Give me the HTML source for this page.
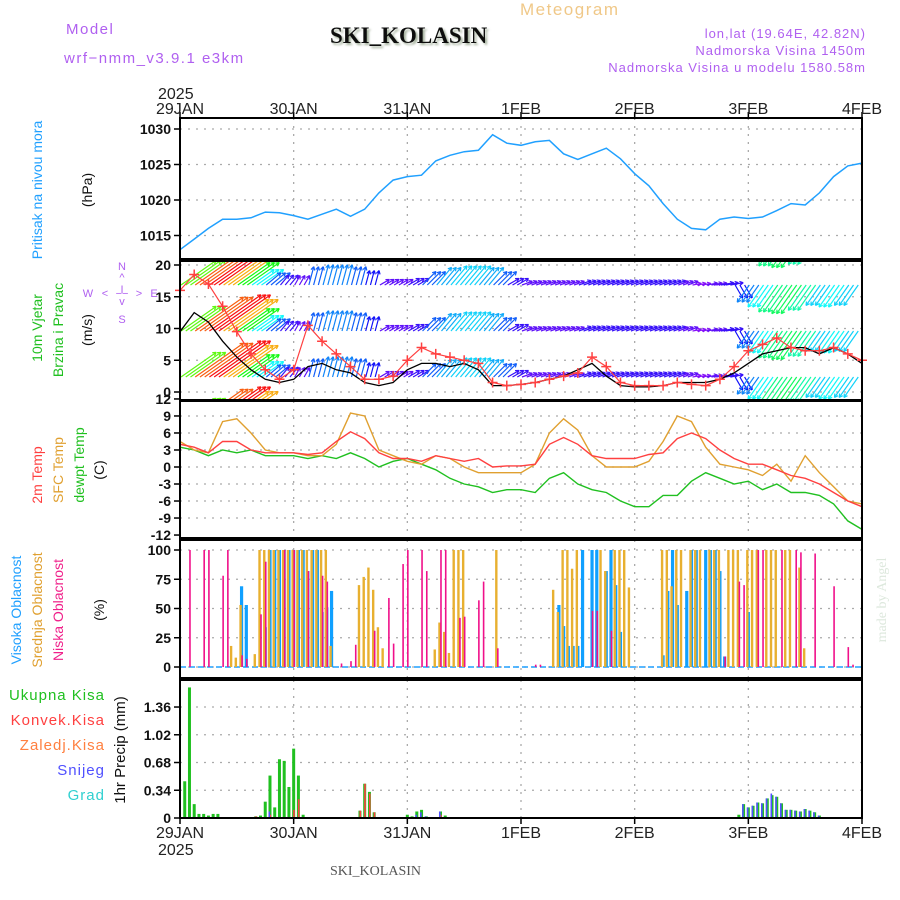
<!DOCTYPE html>
<html><head><meta charset="utf-8"><style>
html,body{margin:0;padding:0;background:#fff;}
svg{display:block;font-family:"Liberation Sans",sans-serif;}
</style></head><body>
<svg id="chart" width="900" height="900" viewBox="0 0 900 900" xmlns="http://www.w3.org/2000/svg">
<defs>
<clipPath id="c2"><rect x="180" y="262" width="682" height="138"/></clipPath>
<filter id="sh"><feDropShadow dx="2" dy="2" stdDeviation="1" flood-color="#8a9a80" flood-opacity="0.8"/></filter>
</defs>
<g>
<text x="66" y="34" font-size="15" fill="#b060f0" letter-spacing="1.5">Model</text>
<text x="64" y="63" font-size="15" fill="#b060f0" letter-spacing="1.5">wrf−nmm_v3.9.1 e3km</text>
<text x="330" y="43" font-size="23" font-weight="bold" font-family="Liberation Serif,serif" fill="#111" filter="url(#sh)">SKI_KOLASIN</text>
<text x="520" y="15" font-size="17" fill="#f0c888" letter-spacing="1.5">Meteogram</text>
<text x="866" y="38" font-size="13" fill="#b060f0" text-anchor="end" letter-spacing="1">lon,lat (19.64E, 42.82N)</text>
<text x="866" y="55" font-size="13" fill="#b060f0" text-anchor="end" letter-spacing="1">Nadmorska Visina 1450m</text>
<text x="866" y="72" font-size="13" fill="#b060f0" text-anchor="end" letter-spacing="1">Nadmorska Visina u modelu 1580.58m</text>
<text x="158" y="99" font-size="16" fill="#222">2025</text>
<text x="330" y="875" font-size="14" font-family="Liberation Serif,serif" fill="#555">SKI_KOLASIN</text>
<text transform="translate(886,600) rotate(-90)" font-size="14" font-family="Liberation Serif,serif" fill="#dde8dd" text-anchor="middle">made by Angel</text>
</g>
<g font-size="14">
<text transform="translate(42,190) rotate(-90)" text-anchor="middle" fill="#20a0ff">Pritisak na nivou mora</text>
<text transform="translate(92,190) rotate(-90)" text-anchor="middle" fill="#111">(hPa)</text>
<text transform="translate(42,328) rotate(-90)" text-anchor="middle" fill="#20c020">10m Vjetar</text>
<text transform="translate(63,330) rotate(-90)" text-anchor="middle" fill="#20c020">Brzina i Pravac</text>
<text transform="translate(92,330) rotate(-90)" text-anchor="middle" fill="#111">(m/s)</text>
<g fill="#b060f0" font-size="11" text-anchor="middle">
<text x="122" y="270">N</text><text x="122" y="281">^</text><text x="122" y="293">I</text><text x="122" y="305">v</text><text x="122" y="323">S</text>
<text x="88" y="297">W</text><text x="105" y="297">&lt;</text><text x="122" y="297">−−</text><text x="139" y="297">&gt;</text><text x="154" y="297">E</text>
</g>
<text transform="translate(42,475) rotate(-90)" text-anchor="middle" fill="#ff4040">2m Temp</text>
<text transform="translate(63,470) rotate(-90)" text-anchor="middle" fill="#e0a030">SFC Temp</text>
<text transform="translate(84,465) rotate(-90)" text-anchor="middle" fill="#20c020">dewpt Temp</text>
<text transform="translate(104,470) rotate(-90)" text-anchor="middle" fill="#111">(C)</text>
<text transform="translate(21,610) rotate(-90)" text-anchor="middle" fill="#20a0ff">Visoka Oblacnost</text>
<text transform="translate(42,610) rotate(-90)" text-anchor="middle" fill="#e0a030">Srednja Oblacnost</text>
<text transform="translate(63,610) rotate(-90)" text-anchor="middle" fill="#f0208a">Niska Oblacnost</text>
<text transform="translate(104,610) rotate(-90)" text-anchor="middle" fill="#111">(%)</text>
<text x="105" y="700" text-anchor="end" fill="#20c020" font-size="15" letter-spacing="1">Ukupna Kisa</text>
<text x="105" y="725" text-anchor="end" fill="#ff4040" font-size="15" letter-spacing="1">Konvek.Kisa</text>
<text x="105" y="750" text-anchor="end" fill="#ff8040" font-size="15" letter-spacing="1">Zaledj.Kisa</text>
<text x="105" y="775" text-anchor="end" fill="#5050ff" font-size="15" letter-spacing="1">Snijeg</text>
<text x="105" y="800" text-anchor="end" fill="#30d0d0" font-size="15" letter-spacing="1">Grad</text>
<text transform="translate(125,750) rotate(-90)" text-anchor="middle" fill="#111" font-size="15">1hr Precip (mm)</text>
</g>
<g id="plot"></g>
</svg>
<script>
const dayLabels=["29JAN","30JAN","31JAN","1FEB","2FEB","3FEB","4FEB"];
const pressure=[1013,1014.5,1016,1017.3,1017.3,1017.5,1018.3,1018.2,1017.8,1017.3,1018,1018.7,1017.7,1018.7,1021,1022.8,1023.3,1023.5,1025.5,1026.3,1026.8,1027,1029.2,1028,1027.7,1028.2,1028.4,1026.5,1025.7,1026.5,1027.3,1025.8,1023.7,1022,1019.5,1017.3,1016,1015.8,1017.3,1017.6,1017.4,1017.6,1018.5,1019.5,1019.3,1021,1023.3,1024.8,1025.2];
const pressureTicks=[1015,1020,1025,1030];
const gust=[16,18.5,17,13.5,9.5,6,3.5,2,3.5,10.5,8,6,4,2,2,2.5,5,7,6,5.5,5,4.5,1.5,1,1.2,1.5,2,2.5,3,5.5,4,1.5,1,1,1,1.5,1.2,1,2,4,6.5,7.5,8.5,7,6.5,6.5,7,6,5];
const speed=[9.5,12.5,11,8,5.5,3.5,2,1.5,2,4,4.5,3.5,3,1.5,1,1.5,3.5,4.5,4.5,4,4.5,3.5,1,1,1.2,1.5,2,2.5,3.5,4.5,2.5,1,0.8,0.8,1,1.5,1.5,1.5,2,3,4.5,6,6.5,7,7,6,7,6,4.5];
const arrowDir=[55,55,55,55,55,55,50,40,30,15,15,15,15,15,60,60,60,45,40,40,40,40,45,60,70,70,70,70,70,70,70,70,70,70,70,70,80,80,80,150,215,215,215,215,215,215,215,215,215];
const arrowSpd=[10,14,15,13,9,6,4,2.5,2,4,4.5,4.5,4,3,2,2,2.5,4,5,5.5,5.5,5,4,2.5,2,2,2,2,2.5,2.5,2.5,2.5,2.5,2.5,2.5,2,1.5,2,2.5,3,4.5,6,7.5,8,7,5.5,6,5.5,4.5];
const windTicks=[0,5,10,15,20];
const t2m=[4,3.5,2.5,4.5,4.5,3,2.5,2.5,2.5,2.2,2.5,4.5,6.2,5,2.5,1.5,1.5,1,2,1.5,1,1.5,0,0.2,0.2,0.5,4,5.2,4,2,1.5,1.5,1.5,2.2,2.5,5,6,5,3,1.5,0.5,0.5,-0.5,-1.5,-2,-3,-4.5,-6,-7];
const tsfc=[4.5,3,2.5,8,8.5,6,3,2.5,2.5,2,2,4,9.5,9,3,2,1,0.5,2,1.5,0,-1,-1,-1,-1,0.5,6,8.5,6.5,2,0,0,0,1,4.5,9,8,3.5,0.5,0,-0.5,-1.5,0.5,-2.5,2,-1,-3.5,-6,-6.5];
const dewpt=[3.5,3,2,3,2.5,3,2,2,2,1.5,2,1.5,2.5,1.5,0,1,1.5,0.5,-0.5,-2,-3,-3.5,-4.5,-4,-4,-4.5,-2,-1,-3,-4,-4.5,-6,-7,-7,-5,-5,-2.5,-1,-2,-3,-2.5,-4,-3,-4.5,-4.5,-5,-6.5,-9.5,-11];
const tempTicks=[-12,-9,-6,-3,0,3,6,9,12];
const highHours=[13,14,18,19,20,21,22,23,24,25,26,27,28,29,30,31,32,80,81,82,83,84,85,87,88,90,91,92,93,102,103,104,105,107,108,109,111,112,113,114,115,120];
const highVals=[69,53,34,100,100,100,100,100,100,100,100,82,100,100,47,51,65,53,35,18,18,18,100,100,100,82,100,70,30,10,65,100,53,65,100,100,100,100,100,82,9,47];
const midHours=[11,12,13,16,17,18,19,20,21,22,23,24,25,26,27,28,29,30,31,32,38,39,40,41,42,43,54,55,56,57,58,59,60,67,79,80,81,82,83,84,89,90,92,93,94,95,102,103,104,105,106,108,109,110,112,113,114,116,117,118,120,121,122,124,125,126,128,129,131,132];
const midVals=[18,8,53,11,100,100,100,100,100,100,100,100,100,100,100,100,100,100,100,18,70,77,85,66,34,16,15,38,30,12,100,100,100,100,66,47,100,100,84,100,100,82,100,100,100,68,100,100,69,100,100,100,100,100,100,100,100,100,100,100,100,100,100,100,100,100,100,100,85,16];
const lowHours=[2,5,6,9,10,13,14,17,18,22,24,27,30,31,34,36,37,41,44,45,47,48,51,52,55,56,59,60,63,64,67,75,76,87,88,91,115,118,119,122,123,127,130,131,134,138,141,142];
const lowVals=[100,100,100,78,100,10,7,45,90,100,100,82,78,73,3,5,19,31,59,20,88,100,100,82,100,100,42,43,57,73,16,2,2,48,48,31,9,73,70,100,100,100,100,98,97,69,17,2];
const cloudTicks=[0,25,50,75,100];
const precipHours=[1,2,3,4,5,6,7,8,16,17,18,19,20,21,22,23,24,25,26,38,39,40,41,48,49,50,51,52,55,56,90,118,119,120,121,122,123,124,125,126,127,128,129,130,131,132,133,134,135,138];
const precipTotal=[0.45,1.6,0.17,0.05,0.05,0.03,0.05,0.05,0.02,0.03,0.2,0.52,0.13,0.72,0.7,0.38,0.85,0.52,0.04,0.09,0.42,0.32,0.07,0.04,0.02,0.08,0.1,0.02,0.08,0.03,0.01,0.04,0.17,0.13,0.15,0.19,0.18,0.24,0.28,0.26,0.18,0.1,0.1,0.09,0.08,0.11,0.09,0.07,0.03,0.01];
const precipConv=[0,0,0,0,0,0,0,0,0.02,0,0,0.04,0,0,0,0,0.1,0.23,0,0.09,0.42,0.3,0.07,0,0,0,0,0,0.04,0,0,0,0,0,0,0,0,0,0,0,0,0,0,0,0,0,0,0,0,0];
const precipSnow=[0,0,0,0,0,0,0,0,0,0,0,0.08,0,0,0,0,0,0,0,0,0,0,0,0,0,0.04,0.07,0.02,0.08,0,0,0,0.17,0.13,0.15,0.19,0.18,0.24,0.3,0.26,0.18,0.1,0.1,0.09,0.08,0.11,0.09,0.07,0.03,0.01];
const precipTicks=[0,0.34,0.68,1.02,1.36];

const NS="http://www.w3.org/2000/svg";
const plot=document.getElementById('plot');
const X0=180,X1=862;
function xh(h){return X0+h*(X1-X0)/144;}
function xi(i){return xh(i*3);}
const P=[
 {top:118,bot:259,y:v=>129+(1030-v)*7.1},
 {top:261,bot:400,y:v=>392-v*6.35},
 {top:401,bot:538,y:v=>467-v*5.67},
 {top:540,bot:678,y:v=>667-v*1.17},
 {top:680,bot:818,y:v=>818-v*81.6}
];
function el(tag,attrs,parent){const e=document.createElementNS(NS,tag);for(const k in attrs)e.setAttribute(k,attrs[k]);(parent||plot).appendChild(e);return e;}

P.forEach((p,pi)=>{
 const g=el('g',{});
 
 
 for(let d=1;d<6;d++){const ln=el('line',{x1:xh(d*24),x2:xh(d*24),y1:p.top,y2:p.bot,stroke:'#aaa','stroke-width':1.3,'stroke-dasharray':'2,6'},g);
  
  }
});
function hgrid(p,ticks,fmt,name){
 const g=el('g',{});
 
 
 ticks.forEach(v=>{
  const y=p.y(v);
  if(y>p.top+3&&y<p.bot-3){const ln=el('line',{x1:X0,x2:X1,y1:y,y2:y,stroke:'#aaa','stroke-width':1.3,'stroke-dasharray':'2,6'},g);
   
   }
  el('line',{x1:X0-6,x2:X0,y1:y,y2:y,stroke:'#000','stroke-width':1.5},g);
  const t=el('text',{x:X0-9,y:y+5,'text-anchor':'end','font-size':14,'font-weight':'bold',fill:'#111'},g);
  t.textContent=fmt(v);
  
  
 });
}
hgrid(P[0],pressureTicks,v=>v,'pressure-axis');
hgrid(P[1],windTicks,v=>v,'wind-axis');
hgrid(P[2],tempTicks,v=>v,'temp-axis');
hgrid(P[3],cloudTicks,v=>v,'cloud-axis');
hgrid(P[4],precipTicks,v=>v===0?'0':v.toFixed(2),'precip-axis');

function line(arr,p,color,name,w){
 const pts=arr.map((v,i)=>xi(i).toFixed(1)+','+p.y(v).toFixed(1)).join(' ');
 const pl=el('polyline',{points:pts,fill:'none',stroke:color,'stroke-width':w||1.4});
 
 
 return pl;
}
line(pressure,P[0],'#20a0ff','pressure-line',1.5);

const wg=el('g',{'clip-path':'url(#c2)'});


const rows=[239,285,331,377,423];
rows.forEach(by=>{
 for(let h=0;h<144;h++){
  const i=Math.floor(h/3);
  const s=arrowSpd[i],a=arrowDir[i]*Math.PI/180;
  const L=4*s+3;
  const x=xh(h)+1,y=by;
  const ex=x+L*Math.sin(a),ey=y-L*Math.cos(a);
  const hue=Math.max(0,Math.min(275,300-s*20));
  const col='hsl('+hue+',95%,52%)';
  const ag=el('g',{stroke:col,'stroke-width':1.2,fill:'none'},wg);
  
  
  el('line',{x1:x,y1:y,x2:ex,y2:ey},ag);
  const hl=4;
  [a+Math.PI-0.5,a+Math.PI+0.5].forEach(b=>{
   el('line',{x1:ex,y1:ey,x2:ex+hl*Math.sin(b),y2:ey-hl*Math.cos(b)},ag);
  });
 }
});
line(speed,P[1],'#000','wind-speed-line',1.3);
line(gust,P[1],'#ff4040','wind-gust-line',1.2);
gust.forEach((v,i)=>{
 const x=xi(i),y=P[1].y(v);
 const m=el('path',{d:`M${x-5},${y}h10M${x},${y-5}v10`,stroke:'#ff4040','stroke-width':1.5});
 
 
});

line(dewpt,P[2],'#20c020','dewpoint-line',1.4);
line(tsfc,P[2],'#e0a030','sfc-temp-line',1.4);
line(t2m,P[2],'#ff4040','t2m-line',1.4);

const base=P[3].y(0);
el('line',{x1:X0,x2:X1,y1:base,y2:base,stroke:'#20a0ff','stroke-width':1.5,'stroke-dasharray':'6,3'});
function cloudBars(hours,vals,color,w,off,name){
 hours.forEach((h,k)=>{
  const y=P[3].y(vals[k]);
  const r=el('rect',{x:xh(h)-w/2+off,y:y,width:w,height:base-y,fill:color});
  
  
 });
}
cloudBars(highHours,highVals,'#10a0ff',3.2,0,'high-cloud-bar');
cloudBars(midHours,midVals,'#e8b030',2.4,-1,'mid-cloud-bar');
cloudBars(lowHours,lowVals,'#f0108a',1.6,0.5,'low-cloud-bar');

precipHours.forEach((h,k)=>{
 const x=xh(h);
 const yb=P[4].y(0);
 const yt=P[4].y(precipTotal[k]);
 const r=el('rect',{x:x-1.5,y:yt,width:3,height:yb-yt,fill:'#20c020'});
 
 
 if(precipConv[k]>0){const yc=P[4].y(precipConv[k]);
  const c=el('rect',{x:x-0.5,y:yc,width:1.6,height:yb-yc,fill:'#ff4040'});
  
  }
 if(precipSnow[k]>0){const ys=P[4].y(precipSnow[k]);
  const s=el('rect',{x:x-1.5,y:ys,width:1.6,height:yb-ys,fill:'#5050ff'});
  
  }
});

P.forEach((p,pi)=>{
 const r=el('rect',{x:X0,y:p.top,width:X1-X0,height:p.bot-p.top,fill:'none',stroke:'#000','stroke-width':2});
 
 
});
dayLabels.forEach((d,i)=>{
 const x=xh(i*24);
 el('line',{x1:x,x2:x,y1:112,y2:118,stroke:'#000','stroke-width':1.5});
 el('line',{x1:x,x2:x,y1:818,y2:824,stroke:'#000','stroke-width':1.5});
 const t=el('text',{x:x,y:114,'text-anchor':'middle','font-size':16,fill:'#222'});
 t.textContent=d;
 
 
 const b=el('text',{x:x,y:838,'text-anchor':'middle','font-size':16,fill:'#222'});
 b.textContent=d;
 
 
});
const yr=el('text',{x:158,y:855,'font-size':16,fill:'#222'});
yr.textContent='2025';


</script>
</body></html>
